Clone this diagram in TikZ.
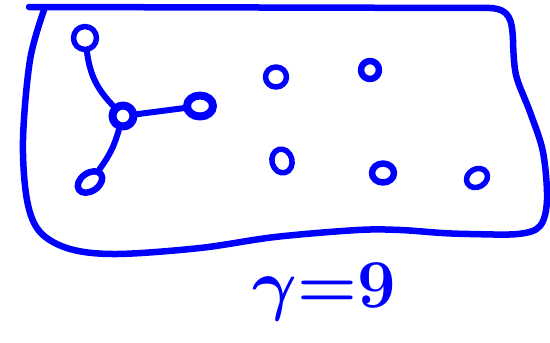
\documentclass[tikz,border=0pt]{standalone}
\usepackage{bm}
\usetikzlibrary{shapes.geometric}
\definecolor{pen}{RGB}{0,0,255}
\begin{document}
\begin{tikzpicture}[x=1pt,y=-1pt,
  ink/.style={draw=pen,line width=6pt,line cap=round,line join=round},
  vtx/.style={ink,ellipse,inner sep=0pt,line width=5.5pt},
  link/.style={ink,line width=6pt}]
\useasboundingbox (0,0) rectangle (550,343);
% outline
\draw[ink,line width=6.5pt] (29,7) -- (490,8)
  .. controls (510,9) and (512,20) .. (513,40);
\draw[ink,line width=6.5pt] plot[smooth,tension=0.55] coordinates {(513,40) (516,75) (530,112) (543,152) (547,200) (540,226) (518,234) (470,234) (442,233) (400,230) (358,230) (275,237) (200,248) (117,254) (70,249) (40,232) (27,200) (23,140) (30,60) (44,10)};
% star graph
\node[vtx,minimum width=23pt,minimum height=23pt] (l1) at (85,38) {};
\node[vtx,minimum width=26pt,minimum height=21pt,line width=8pt] (l2) at (200,106) {};
\node[vtx,minimum width=27pt,minimum height=18pt,rotate=35,line width=6.5pt] (l3) at (90,182) {};
\node[vtx,minimum width=21pt,minimum height=21pt,line width=8pt] (c) at (123,116) {};
\draw[link] (l1) to[bend right=18] (c);
\draw[link] (c) -- (l2);
\draw[link] (c) to[bend left=10] (l3);
% isolated vertices
\node[vtx,minimum width=21pt,minimum height=20pt] (a) at (276,77) {};
\node[vtx,minimum width=18pt,minimum height=18pt,line width=6.5pt] (b) at (370,70) {};
\node[vtx,minimum width=20pt,minimum height=24pt,rotate=15] (d) at (282,161) {};
\node[vtx,minimum width=22pt,minimum height=19pt,line width=6.5pt] (e) at (383,173) {};
\node[vtx,minimum width=22pt,minimum height=18pt,rotate=30] (f) at (477,178) {};
% label
\node[text=pen,inner sep=0pt,font=\huge,scale=3.3] (lab) at (324,292) {$\bm{\gamma}{\bm{=}}\mathbf{9}$};
\end{tikzpicture}
\end{document}
